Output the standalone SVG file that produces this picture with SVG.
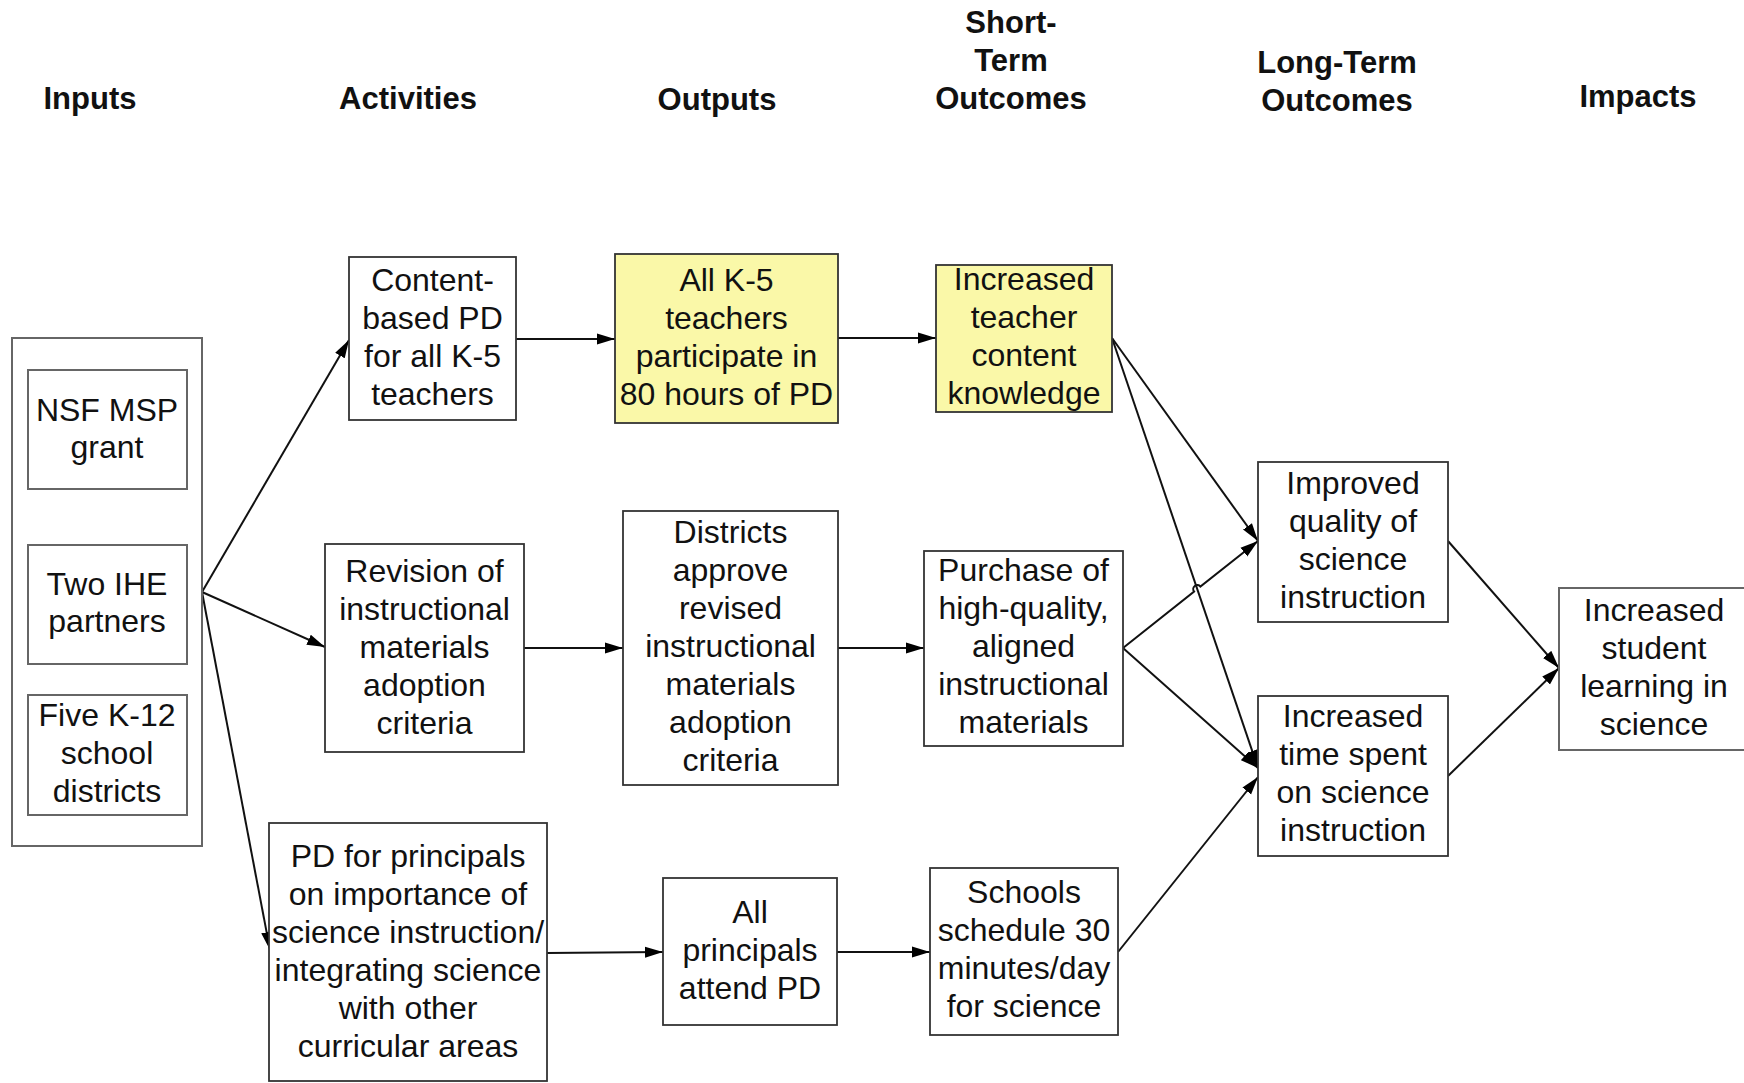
<svg xmlns="http://www.w3.org/2000/svg" width="1744" height="1083" viewBox="0 0 1744 1083">
<style>
.hd{font-family:"Liberation Sans",Arial,sans-serif;font-weight:bold;font-size:31px;fill:#111;text-anchor:middle}
.tx{font-family:"Liberation Sans",Arial,sans-serif;font-size:32px;fill:#111;text-anchor:middle}
.bx{fill:#fff;stroke:#333;stroke-width:1.8}
.gb{fill:#fff;stroke:#666;stroke-width:2}
.yb{fill:#FAF8A8;stroke:#333;stroke-width:1.8}
.cn{fill:none;stroke:#111;stroke-width:2}
</style>
<defs>
<marker id="ah" markerUnits="userSpaceOnUse" markerWidth="19" markerHeight="12" refX="18" refY="6" orient="auto">
<path d="M0,0.5 L18,6 L0,11.5 z" fill="#000"/>
</marker>
</defs>
<rect width="1744" height="1083" fill="#fff"/>
<g id="headers">
<text class="hd" x="90" y="109">Inputs</text>
<text class="hd" x="408" y="109">Activities</text>
<text class="hd" x="717" y="110">Outputs</text>
<text class="hd" x="1011" y="33">Short-</text>
<text class="hd" x="1011" y="71">Term</text>
<text class="hd" x="1011" y="109">Outcomes</text>
<text class="hd" x="1337" y="73">Long-Term</text>
<text class="hd" x="1337" y="111">Outcomes</text>
<text class="hd" x="1638" y="107">Impacts</text>
</g>
<g id="connectors">
<path class="cn" d="M202,592 L349,340" marker-end="url(#ah)"/>
<path class="cn" d="M202,592 L325,647" marker-end="url(#ah)"/>
<path class="cn" d="M202,592 L270,950" marker-end="url(#ah)"/>
<path class="cn" d="M516,339 L615,339" marker-end="url(#ah)"/>
<path class="cn" d="M838,338 L936,338" marker-end="url(#ah)"/>
<path class="cn" d="M1112,338 L1258,541" marker-end="url(#ah)"/>
<path class="cn" d="M1112,338 L1258,768" marker-end="url(#ah)"/>
<path class="cn" d="M524,648 L623,648" marker-end="url(#ah)"/>
<path class="cn" d="M838,648 L924,648" marker-end="url(#ah)"/>
<path class="cn" d="M1123,648 L1194.1,591.6 A4,4 0 0 1 1200.4,586.6 L1258,541" marker-end="url(#ah)"/>
<path class="cn" d="M1123,648 L1258,768" marker-end="url(#ah)"/>
<path class="cn" d="M547,953 L663,952" marker-end="url(#ah)"/>
<path class="cn" d="M837,952 L930,952" marker-end="url(#ah)"/>
<path class="cn" d="M1118,952 L1258,777" marker-end="url(#ah)"/>
<path class="cn" d="M1448,541 L1559,668" marker-end="url(#ah)"/>
<path class="cn" d="M1448,776 L1559,668" marker-end="url(#ah)"/>
</g>
<g id="inputs">
<rect class="gb" x="12" y="338" width="190" height="508"/>
</g>
<g id="nsf">
<rect class="gb" x="28" y="370" width="159" height="119"/>
<text class="tx"><tspan x="107" y="421">NSF MSP</tspan><tspan x="107" y="458">grant</tspan></text>
</g>
<g id="ihe">
<rect class="gb" x="28" y="545" width="159" height="119"/>
<text class="tx"><tspan x="107" y="595">Two IHE</tspan><tspan x="107" y="632">partners</tspan></text>
</g>
<g id="districts5">
<rect class="gb" x="28" y="695" width="159" height="120"/>
<text class="tx"><tspan x="107" y="726">Five K-12</tspan><tspan x="107" y="764">school</tspan><tspan x="107" y="802">districts</tspan></text>
</g>
<g id="content-pd">
<rect class="bx" x="349" y="257" width="167" height="163"/>
<text class="tx"><tspan x="432.5" y="291">Content-</tspan><tspan x="432.5" y="329">based PD</tspan><tspan x="432.5" y="367">for all K-5</tspan><tspan x="432.5" y="405">teachers</tspan></text>
</g>
<g id="all-k5">
<rect class="yb" x="615" y="254" width="223" height="169"/>
<text class="tx"><tspan x="726.5" y="291">All K-5</tspan><tspan x="726.5" y="329">teachers</tspan><tspan x="726.5" y="367">participate in</tspan><tspan x="726.5" y="405">80 hours of PD</tspan></text>
</g>
<g id="teacher-knowledge">
<rect class="yb" x="936" y="265" width="176" height="147"/>
<text class="tx"><tspan x="1024" y="290">Increased</tspan><tspan x="1024" y="328">teacher</tspan><tspan x="1024" y="366">content</tspan><tspan x="1024" y="404">knowledge</tspan></text>
</g>
<g id="revision">
<rect class="bx" x="325" y="544" width="199" height="208"/>
<text class="tx"><tspan x="424.5" y="582">Revision of</tspan><tspan x="424.5" y="620">instructional</tspan><tspan x="424.5" y="658">materials</tspan><tspan x="424.5" y="696">adoption</tspan><tspan x="424.5" y="734">criteria</tspan></text>
</g>
<g id="districts-approve">
<rect class="bx" x="623" y="511" width="215" height="274"/>
<text class="tx"><tspan x="730.5" y="543">Districts</tspan><tspan x="730.5" y="581">approve</tspan><tspan x="730.5" y="619">revised</tspan><tspan x="730.5" y="657">instructional</tspan><tspan x="730.5" y="695">materials</tspan><tspan x="730.5" y="733">adoption</tspan><tspan x="730.5" y="771">criteria</tspan></text>
</g>
<g id="purchase">
<rect class="bx" x="924" y="551" width="199" height="195"/>
<text class="tx"><tspan x="1023.5" y="581">Purchase of</tspan><tspan x="1023.5" y="619">high-quality,</tspan><tspan x="1023.5" y="657">aligned</tspan><tspan x="1023.5" y="695">instructional</tspan><tspan x="1023.5" y="733">materials</tspan></text>
</g>
<g id="improved-quality">
<rect class="bx" x="1258" y="462" width="190" height="160"/>
<text class="tx"><tspan x="1353" y="494">Improved</tspan><tspan x="1353" y="532">quality of</tspan><tspan x="1353" y="570">science</tspan><tspan x="1353" y="608">instruction</tspan></text>
</g>
<g id="increased-time">
<rect class="bx" x="1258" y="696" width="190" height="160"/>
<text class="tx"><tspan x="1353" y="727">Increased</tspan><tspan x="1353" y="765">time spent</tspan><tspan x="1353" y="803">on science</tspan><tspan x="1353" y="841">instruction</tspan></text>
</g>
<g id="student-learning">
<rect class="gb" x="1559" y="588" width="200" height="162"/>
<text class="tx"><tspan x="1654" y="621">Increased</tspan><tspan x="1654" y="659">student</tspan><tspan x="1654" y="697">learning in</tspan><tspan x="1654" y="735">science</tspan></text>
</g>
<g id="pd-principals">
<rect class="bx" x="269" y="823" width="278" height="258"/>
<text class="tx"><tspan x="408" y="867">PD for principals</tspan><tspan x="408" y="905">on importance of</tspan><tspan x="408" y="943">science instruction/</tspan><tspan x="408" y="981">integrating science</tspan><tspan x="408" y="1019">with other</tspan><tspan x="408" y="1057">curricular areas</tspan></text>
</g>
<g id="all-principals">
<rect class="bx" x="663" y="878" width="174" height="147"/>
<text class="tx"><tspan x="750" y="923">All</tspan><tspan x="750" y="961">principals</tspan><tspan x="750" y="999">attend PD</tspan></text>
</g>
<g id="schools-schedule">
<rect class="bx" x="930" y="868" width="188" height="167"/>
<text class="tx"><tspan x="1024" y="903">Schools</tspan><tspan x="1024" y="941">schedule 30</tspan><tspan x="1024" y="979">minutes/day</tspan><tspan x="1024" y="1017">for science</tspan></text>
</g>
</svg>
